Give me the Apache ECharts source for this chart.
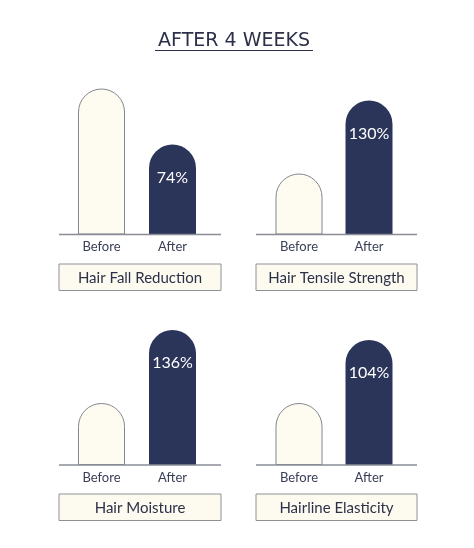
<!DOCTYPE html>
<html>
<head>
<meta charset="utf-8">
<script src="https://cdn.jsdelivr.net/npm/echarts@6/dist/echarts.min.js"></script>
<style>
html,body{margin:0;padding:0;background:#ffffff;}
#chart{width:474px;height:548px;}
</style>
</head>
<body>
<div id="chart"></div>
<script>
const chartTitle = 'AFTER 4 WEEKS';
const panelTitles = ['Hair Fall Reduction', 'Hair Tensile Strength', 'Hair Moisture', 'Hairline Elasticity'];
const categories = ['Before', 'After'];
const beforeValues = [146, 61, 62, 62];
const afterValues = [90, 134, 135, 125];
const afterLabels = ['74%', '130%', '136%', '104%'];

const NAVY = '#2b3559';
const CREAM = '#fefcf1';
const TEXT = '#2c3048';
const LINE = '#8a8c96';

const gridDefs = [
  {left: 66, width: 142, top: 84.5, height: 150},
  {left: 264, width: 140, top: 84.5, height: 150},
  {left: 66, width: 142, top: 315, height: 150},
  {left: 264, width: 140, top: 315, height: 150}
];
const panelFrames = [
  {x: 59, w: 162, base: 234.5, boxY: 264},
  {x: 256, w: 161, base: 234.5, boxY: 264},
  {x: 59, w: 162, base: 465, boxY: 494},
  {x: 256, w: 161, base: 465, boxY: 494}
];

const grid = [], xAxis = [], yAxis = [], series = [];
panelTitles.forEach((t, i) => {
  grid.push(gridDefs[i]);
  xAxis.push({
    type: 'category', gridIndex: i, data: categories,
    axisLine: {show: false}, axisTick: {show: false},
    axisLabel: {margin: 6, fontSize: 13, color: '#3b4058', fontFamily: 'Lato'}
  });
  yAxis.push({type: 'value', gridIndex: i, min: 0, max: 150, show: false});
  series.push({
    type: 'bar', xAxisIndex: i, yAxisIndex: i, barWidth: 47,
    itemStyle: {borderRadius: [23.5, 23.5, 0, 0]},
    data: [
      {value: beforeValues[i], itemStyle: {color: CREAM, borderColor: '#85868e', borderWidth: 1}},
      {value: afterValues[i], itemStyle: {color: NAVY},
        label: {show: true, position: 'insideTop', distance: 25, formatter: afterLabels[i],
          color: '#ffffff', fontSize: 16, fontFamily: 'Lato'}}
    ]
  });
});

const graphic = [];
panelFrames.forEach((f, i) => {
  graphic.push({type: 'line', z: 100, shape: {x1: f.x, y1: f.base, x2: f.x + f.w, y2: f.base},
    style: {stroke: LINE, lineWidth: 1.5}});
  graphic.push({type: 'rect', shape: {x: f.x, y: f.boxY, width: f.w, height: 26.5},
    style: {fill: '#fdfbf0', stroke: '#8f9096', lineWidth: 1}});
  graphic.push({type: 'text', x: f.x + f.w / 2, y: f.boxY + 14,
    style: {text: panelTitles[i], font: '15px Lato', fill: TEXT, textAlign: 'center', textVerticalAlign: 'middle'}});
});
graphic.push({type: 'text', x: 234, y: 41,
  style: {text: chartTitle, font: '19px "DejaVu Sans"', fill: TEXT, textAlign: 'center', textVerticalAlign: 'middle'}});
graphic.push({type: 'line', shape: {x1: 155, y1: 50.5, x2: 313, y2: 50.5}, style: {stroke: TEXT, lineWidth: 1.2}});

const chart = echarts.init(document.getElementById('chart'), null, {renderer: 'canvas'});
chart.setOption({
  backgroundColor: '#ffffff',
  animation: false,
  grid, xAxis, yAxis, series, graphic
});
</script>
</body>
</html>
